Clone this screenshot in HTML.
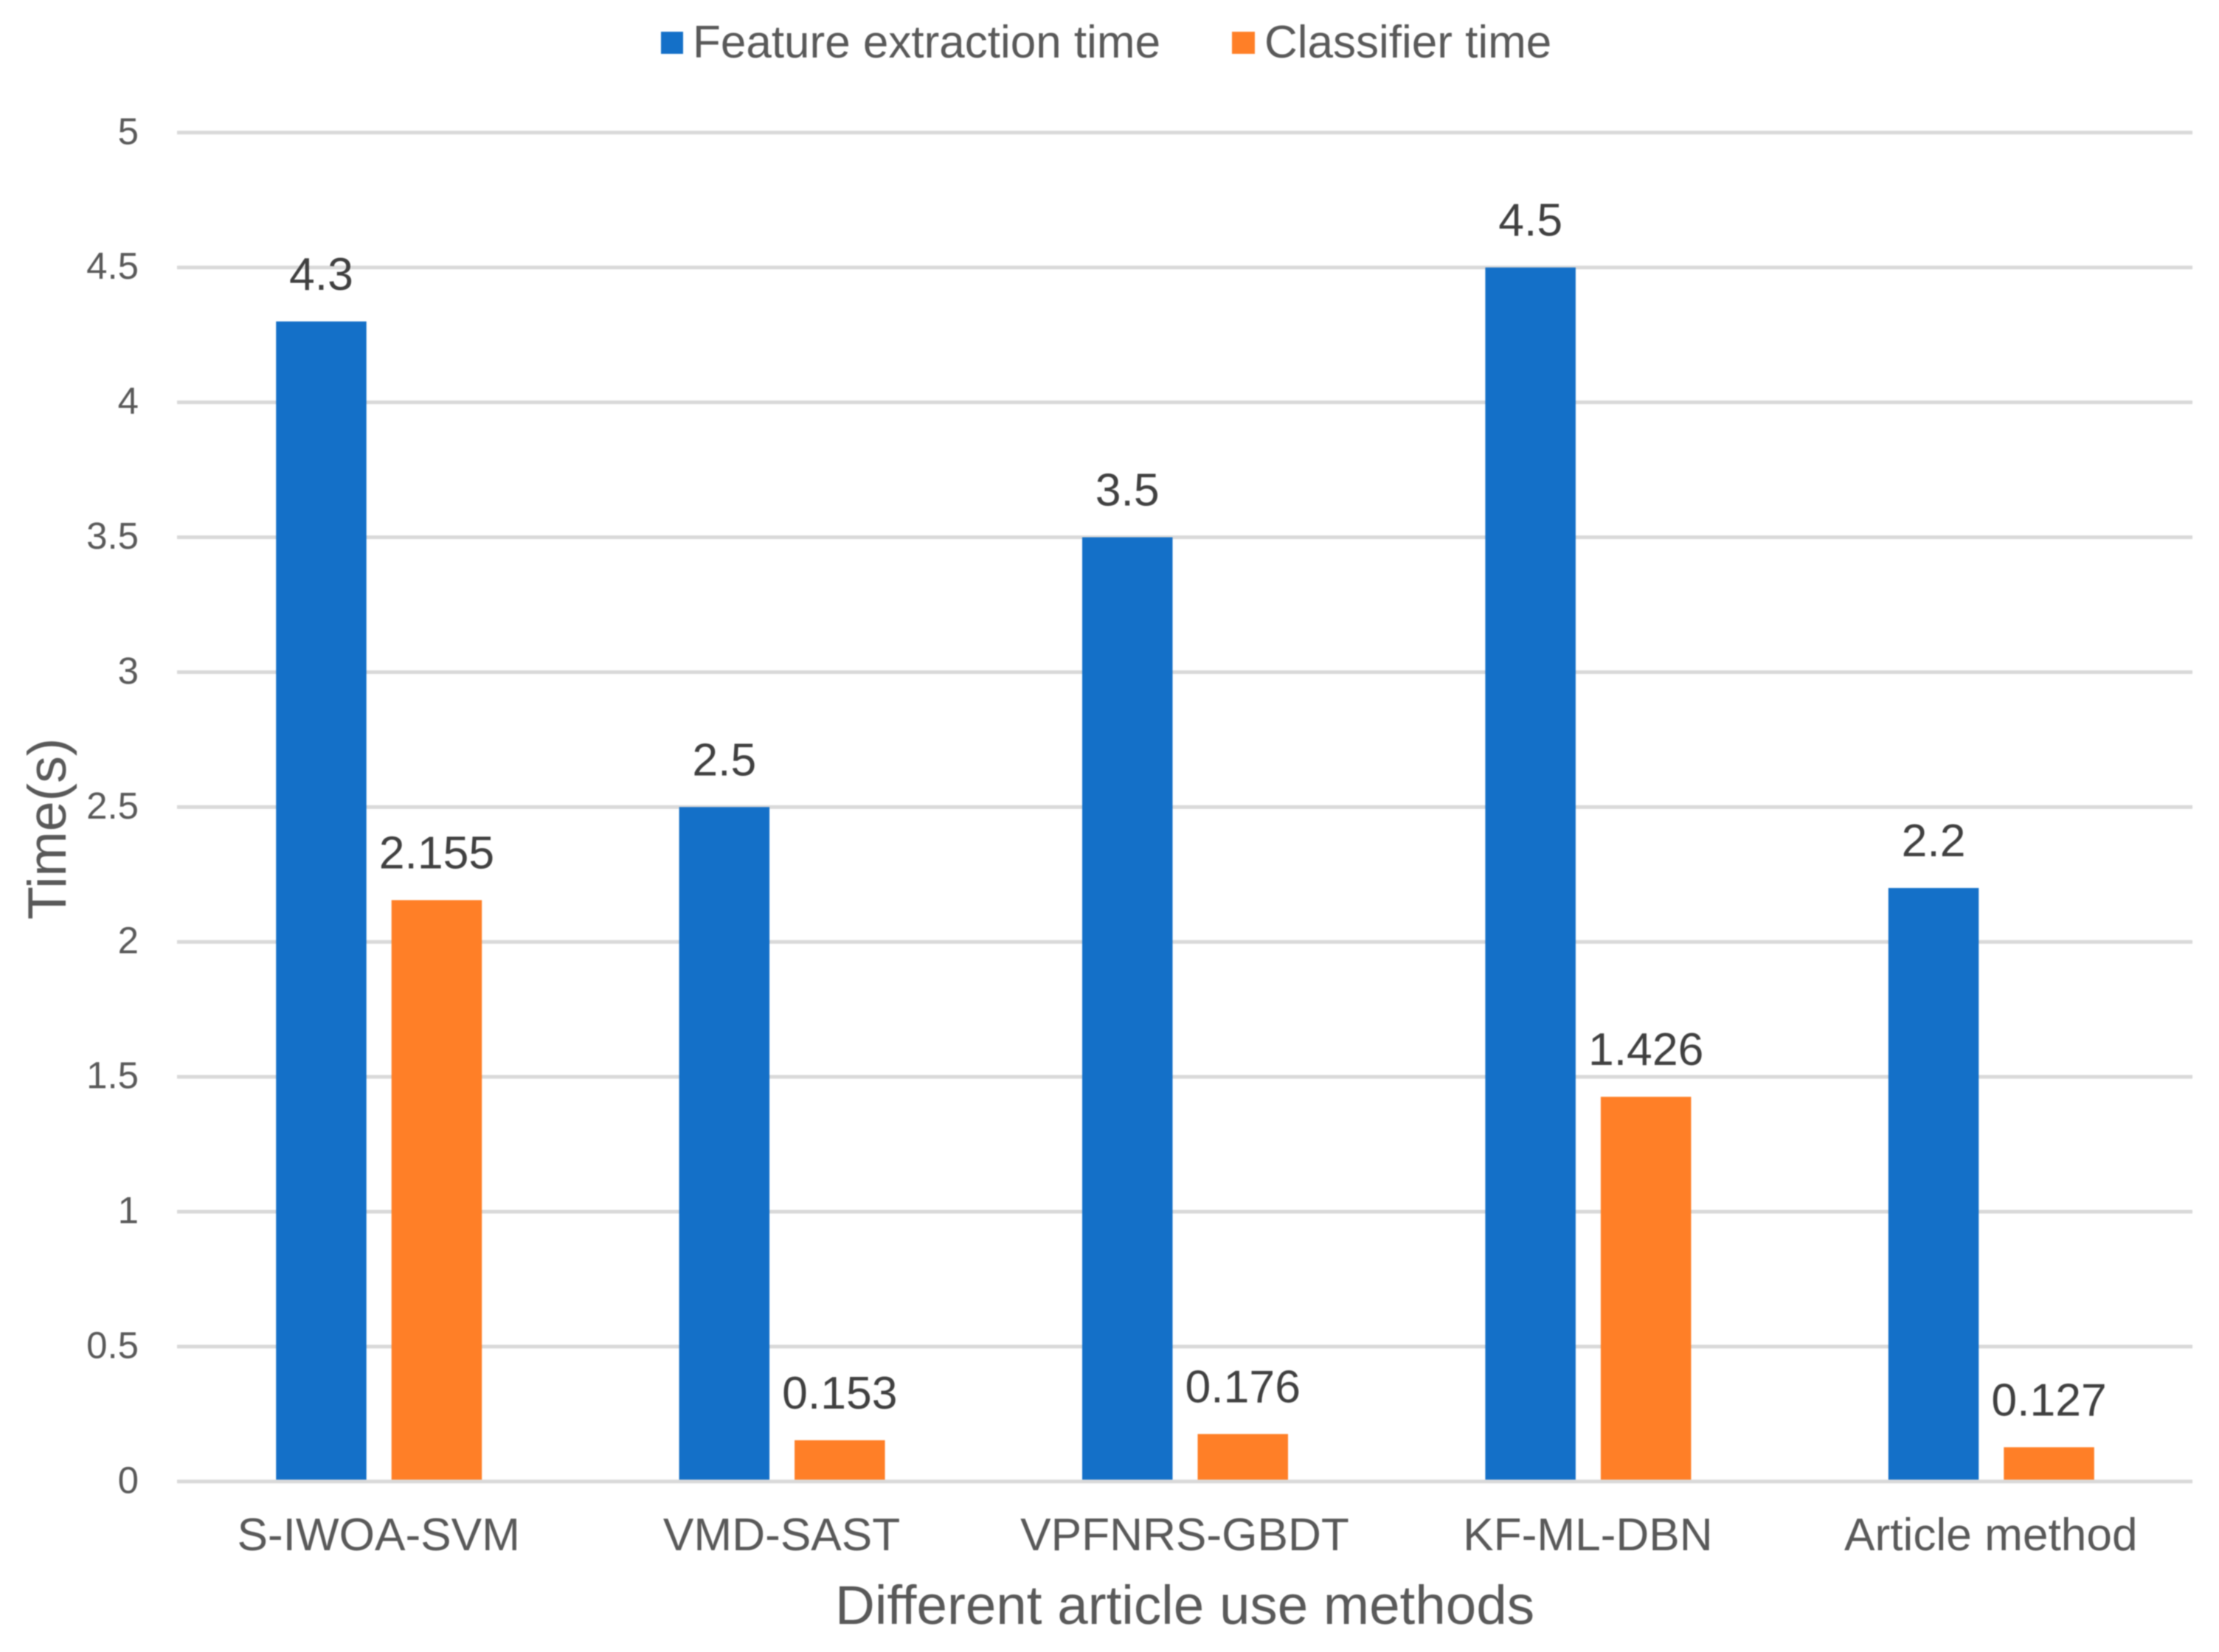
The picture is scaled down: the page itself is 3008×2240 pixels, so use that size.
<!DOCTYPE html>
<html lang="en">
<head>
<meta charset="utf-8">
<title>Time by method</title>
<style>
html,body{margin:0;padding:0;background:#fff;}
svg{display:block;font-family:"Liberation Sans",Arial,sans-serif;filter:blur(0.8px);}
</style>
</head>
<body>
<svg id="chart" xmlns="http://www.w3.org/2000/svg" width="3008" height="2240" viewBox="0 0 3008 2240">
  <rect x="-10" y="-10" width="3028" height="2260" fill="#ffffff"/>
  <g id="grid"></g>
  <g id="ticks"></g>
  <g id="bars"></g>
  <g id="axis"></g>
  <g id="labels"></g>
  <g id="cats"></g>
  <g>
    <rect x="896" y="43" width="30" height="30" fill="#1470c8"/>
    <text x="939" y="78" font-size="62" fill="#595959">Feature extraction time</text>
    <rect x="1670" y="43" width="31" height="30" fill="#ff7f27"/>
    <text x="1714" y="78" font-size="62" fill="#595959">Classifier time</text>
  </g>
  <text x="1606" y="2202" font-size="74.6" fill="#595959" text-anchor="middle">Different article use methods</text>
  <text transform="translate(89 1247) rotate(-90)" x="0" y="0" font-size="73.5" fill="#595959">Time(s)</text>
</svg>
<script>
const categories = ["S-IWOA-SVM", "VMD-SAST", "VPFNRS-GBDT", "KF-ML-DBN", "Article method"];
const featureTimes = [4.3, 2.5, 3.5, 4.5, 2.2];
const classifierTimes = [2.155, 0.153, 0.176, 1.426, 0.127];
const yTickValues = [0, 0.5, 1, 1.5, 2, 2.5, 3, 3.5, 4, 4.5, 5];

const NS = "http://www.w3.org/2000/svg";
const plotLeft = 240, plotRight = 2972, plotBottom = 2008.8, plotTop = 179.8;
const yMax = 5;
const barWidth = 122.5, barOffsetFeature = -139, barOffsetClassifier = 17.5;

function xCenter(i) {
  return plotLeft + (plotRight - plotLeft) * (i + 0.5) / categories.length;
}
function yScale(v) {
  return plotBottom - (plotBottom - plotTop) * v / yMax;
}
function make(tag, parent, attrs, text) {
  const el = document.createElementNS(NS, tag);
  for (const k in attrs) el.setAttribute(k, attrs[k]);
  if (text !== undefined) el.textContent = text;
  parent.appendChild(el);
  return el;
}

const gridG = document.getElementById("grid");
const ticksG = document.getElementById("ticks");
const barsG = document.getElementById("bars");
const axisG = document.getElementById("axis");
const labelsG = document.getElementById("labels");
const catsG = document.getElementById("cats");

yTickValues.forEach(function (v) {
  if (v !== 0) {
    const line = make("rect", gridG, {x: plotLeft, y: yScale(v) - 2.5, width: plotRight - plotLeft, height: 5, fill: "#d9d9d9"});
    
    
  }
  const tick = make("text", ticksG, {x: 188, y: yScale(v) + 15.5, "font-size": 51, fill: "#595959", "text-anchor": "end"}, String(v));
  
  
});

function drawBar(i, value, offset, color) {
  const x = xCenter(i) + offset;
  const y = yScale(value);
  const bar = make("rect", barsG, {x: x, y: y, width: barWidth, height: yScale(0) - y, fill: color});
  
  
  const label = make("text", labelsG, {x: x + barWidth / 2, y: y - 43, "font-size": 62.5, fill: "#404040", "text-anchor": "middle"}, String(value));
  
  
}

categories.forEach(function (name, i) {
  drawBar(i, featureTimes[i], barOffsetFeature, "#1470c8");
  drawBar(i, classifierTimes[i], barOffsetClassifier, "#ff7f27");
  const cat = make("text", catsG, {x: xCenter(i), y: 2102, "font-size": 62.2, fill: "#595959", "text-anchor": "middle"}, name);
  
  
});

const axisLine = make("rect", axisG, {x: plotLeft, y: yScale(0) - 2.5, width: plotRight - plotLeft, height: 5, fill: "#d9d9d9"});


</script>
</body>
</html>
